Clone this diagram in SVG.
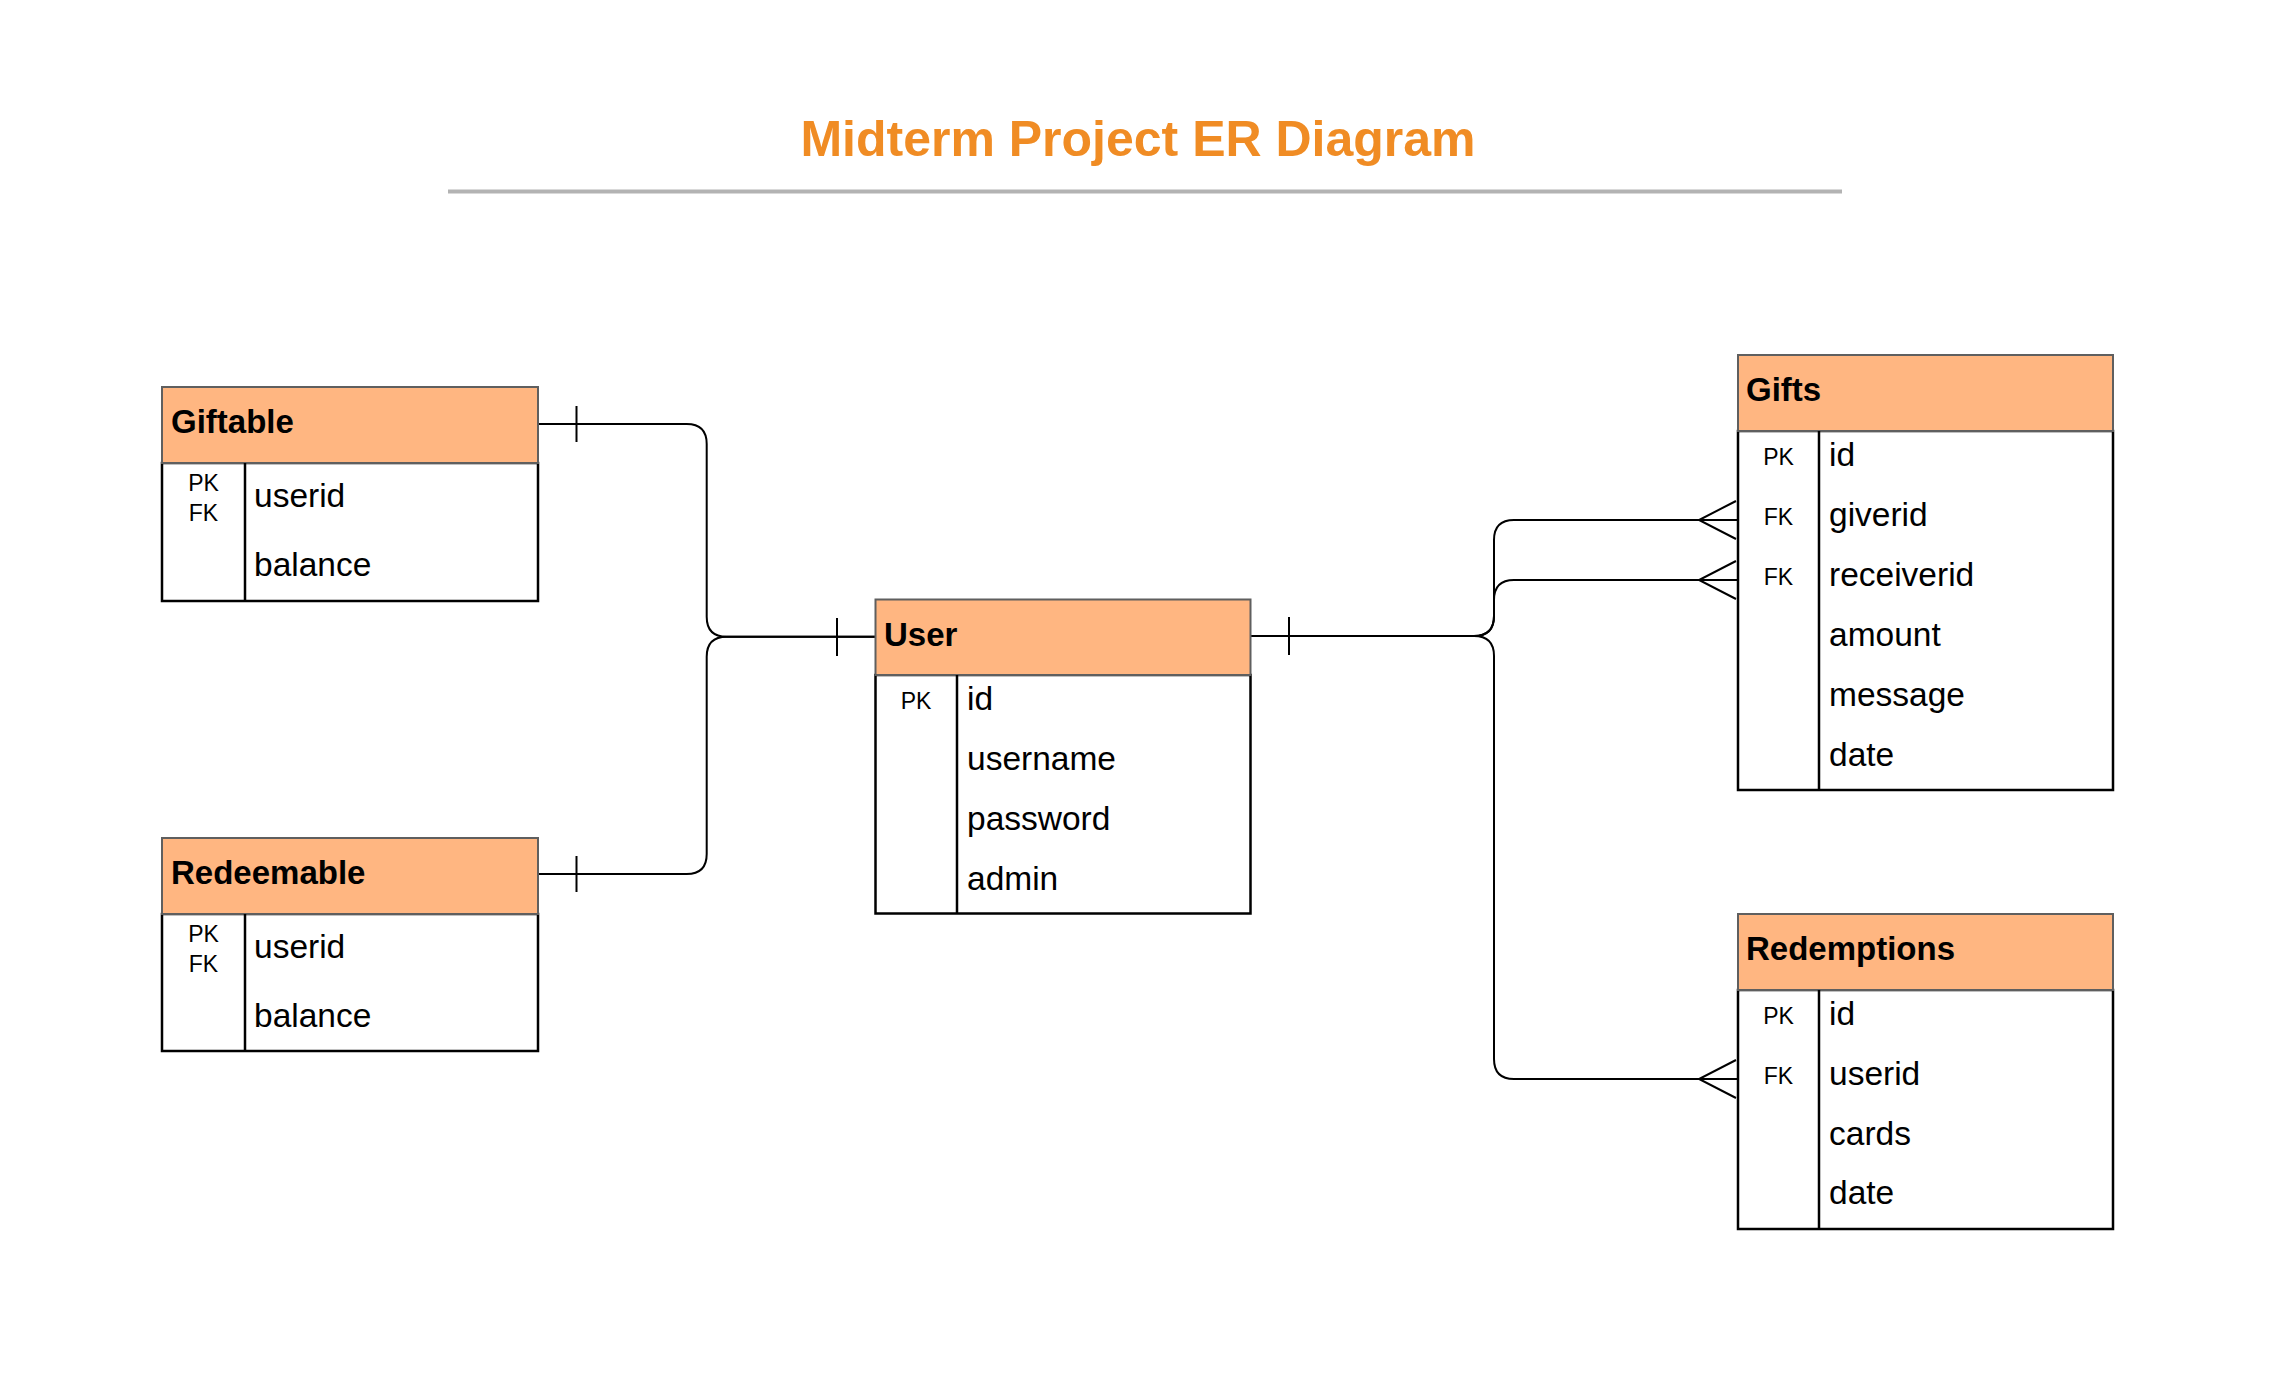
<svg xmlns="http://www.w3.org/2000/svg" width="2273" height="1378" viewBox="0 0 2273 1378">
  <style>
    .bg { fill: #ffffff; }
    .title { font-family: "Liberation Sans", Arial, sans-serif; font-weight: bold; font-size: 50px; fill: #F08C24; }
    .rule { stroke: #b3b3b3; stroke-width: 4; }
    .hdr { fill: #FFB681; stroke: #5f5f5f; stroke-width: 2; }
    .body { fill: #ffffff; stroke: #000000; stroke-width: 2.5; }
    .div { stroke: #000000; stroke-width: 2.5; }
    .tname { font-family: "Liberation Sans", Arial, sans-serif; font-weight: bold; font-size: 33px; fill: #000; }
    .field { font-family: "Liberation Sans", Arial, sans-serif; font-size: 33.5px; fill: #000; }
    .key { font-family: "Liberation Sans", Arial, sans-serif; font-size: 23px; fill: #000; text-anchor: middle; }
    .conn { fill: none; stroke: #000000; stroke-width: 2; }
  </style>
  <rect class="bg" x="0" y="0" width="2273" height="1378"/>

  <g id="title">
    <text class="title" x="1138" y="156" text-anchor="middle">Midterm Project ER Diagram</text>
    <line class="rule" x1="448" y1="191.5" x2="1842" y2="191.5"/>
  </g>

  <g id="connectors">
    <!-- Giftable to User -->
    <path class="conn" d="M538 424 H686.7 Q706.7 424 706.7 444 V616.7 Q706.7 636.7 726.7 636.7 H875.5"/>
    <line class="conn" x1="576.5" y1="406" x2="576.5" y2="442"/>
    <!-- Redeemable to User -->
    <path class="conn" d="M538 874 H686.7 Q706.7 874 706.7 854 V656.7 Q706.7 636.7 726.7 636.7 H875.5"/>
    <line class="conn" x1="576.5" y1="856" x2="576.5" y2="892"/>
    <line class="conn" x1="837" y1="618" x2="837" y2="656"/>
    <!-- User to Gifts giverid -->
    <path class="conn" d="M1250.5 636 H1474 Q1494 636 1494 616 V540 Q1494 520 1514 520 H1738"/>
    <path class="conn" d="M1736 501 L1699 520 L1736 539"/>
    <!-- User to Gifts receiverid -->
    <path class="conn" d="M1250.5 636 H1474 Q1494 636 1494 616 V600 Q1494 580 1514 580 H1738"/>
    <path class="conn" d="M1736 561 L1699 580 L1736 599"/>
    <!-- User to Redemptions userid -->
    <path class="conn" d="M1250.5 636 H1474 Q1494 636 1494 656 V1059 Q1494 1079 1514 1079 H1738"/>
    <path class="conn" d="M1736 1060 L1699 1079 L1736 1098"/>
    <line class="conn" x1="1289" y1="617" x2="1289" y2="655"/>
  </g>

  <g id="giftable">
    <rect class="body" x="162" y="463" width="376" height="138"/>
    <rect class="hdr" x="162" y="387" width="376" height="76"/>
    <line class="div" x1="245" y1="463" x2="245" y2="601"/>
    <text class="tname" x="171" y="433">Giftable</text>
    <text class="key" x="203.5" y="491">PK</text>
    <text class="key" x="203.5" y="521">FK</text>
    <text class="field" x="254" y="507">userid</text>
    <text class="field" x="254" y="576">balance</text>
  </g>

  <g id="redeemable">
    <rect class="body" x="162" y="914" width="376" height="137"/>
    <rect class="hdr" x="162" y="838" width="376" height="76"/>
    <line class="div" x1="245" y1="914" x2="245" y2="1051"/>
    <text class="tname" x="171" y="884">Redeemable</text>
    <text class="key" x="203.5" y="942">PK</text>
    <text class="key" x="203.5" y="972">FK</text>
    <text class="field" x="254" y="958">userid</text>
    <text class="field" x="254" y="1027">balance</text>
  </g>

  <g id="user">
    <rect class="body" x="875.5" y="675" width="375" height="238.5"/>
    <rect class="hdr" x="875.5" y="599.5" width="375" height="75.5"/>
    <line class="div" x1="957" y1="675" x2="957" y2="913.5"/>
    <text class="tname" x="884" y="645.5">User</text>
    <text class="key" x="916" y="708.5">PK</text>
    <text class="field" x="967" y="710">id</text>
    <text class="field" x="967" y="770">username</text>
    <text class="field" x="967" y="829.5">password</text>
    <text class="field" x="967" y="889.5">admin</text>
  </g>

  <g id="gifts">
    <rect class="body" x="1738" y="431" width="375" height="359"/>
    <rect class="hdr" x="1738" y="355" width="375" height="76"/>
    <line class="div" x1="1819" y1="431" x2="1819" y2="790"/>
    <text class="tname" x="1746" y="401">Gifts</text>
    <text class="key" x="1778.5" y="464.5">PK</text>
    <text class="key" x="1778.5" y="524.5">FK</text>
    <text class="key" x="1778.5" y="584.5">FK</text>
    <text class="field" x="1829" y="466">id</text>
    <text class="field" x="1829" y="526">giverid</text>
    <text class="field" x="1829" y="586">receiverid</text>
    <text class="field" x="1829" y="645.5">amount</text>
    <text class="field" x="1829" y="705.5">message</text>
    <text class="field" x="1829" y="765.5">date</text>
  </g>

  <g id="redemptions">
    <rect class="body" x="1738" y="990" width="375" height="239"/>
    <rect class="hdr" x="1738" y="914" width="375" height="76"/>
    <line class="div" x1="1819" y1="990" x2="1819" y2="1229"/>
    <text class="tname" x="1746" y="960">Redemptions</text>
    <text class="key" x="1778.5" y="1023.5">PK</text>
    <text class="key" x="1778.5" y="1083.5">FK</text>
    <text class="field" x="1829" y="1025">id</text>
    <text class="field" x="1829" y="1084.5">userid</text>
    <text class="field" x="1829" y="1144.5">cards</text>
    <text class="field" x="1829" y="1204">date</text>
  </g>
</svg>
